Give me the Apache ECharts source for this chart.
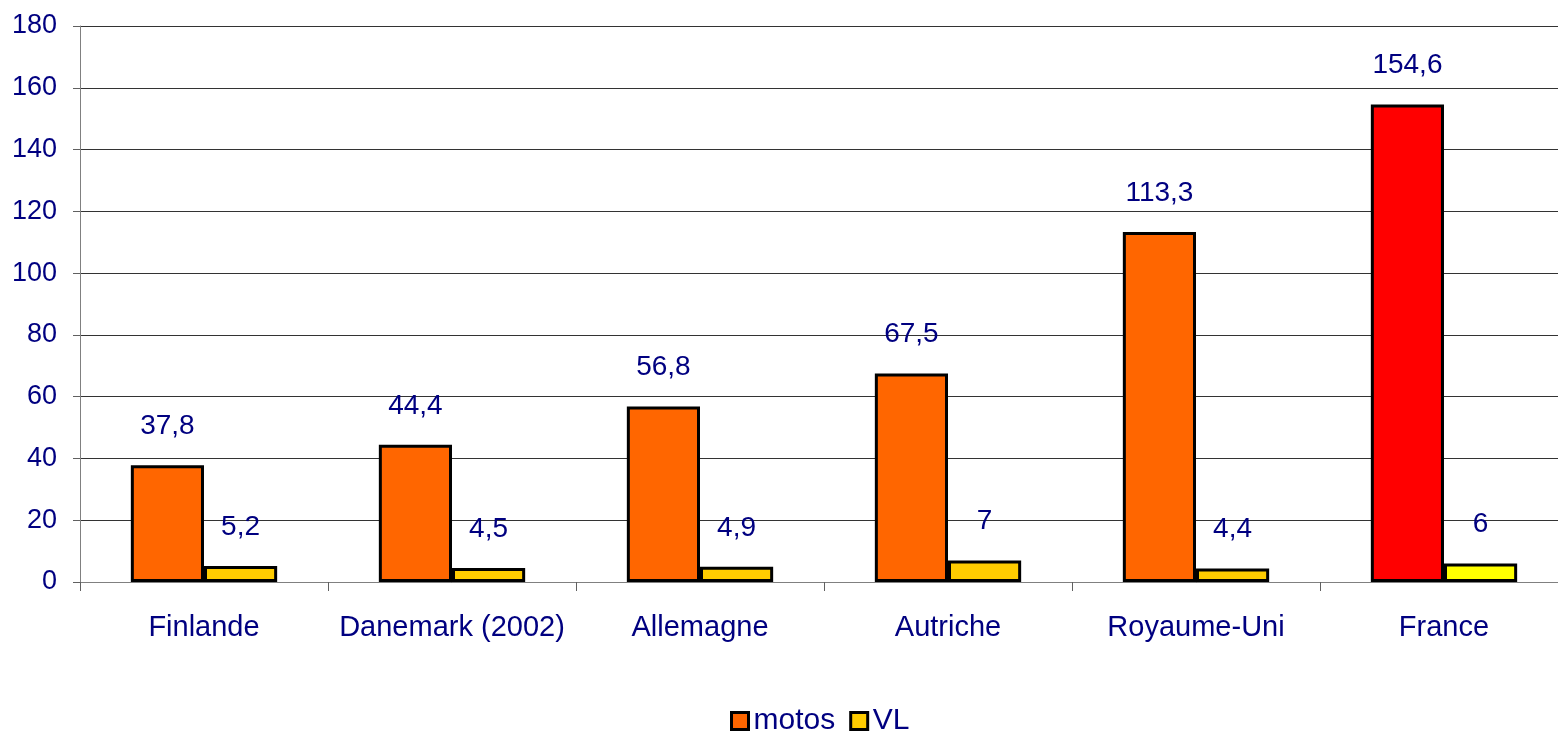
<!DOCTYPE html>
<html>
<head>
<meta charset="utf-8">
<script src="https://cdn.jsdelivr.net/npm/echarts@6/dist/echarts.min.js"></script>
<style>
  html, body { margin: 0; padding: 0; background: #fff; overflow: hidden; }
  /* slightly wider than the window: the plot area runs past the right edge, as in the original */
  #chart { width: 1568px; height: 732px; }
</style>
</head>
<body>
<div id="chart"></div>
<script>
// data
var categories = ['Finlande', 'Danemark (2002)', 'Allemagne', 'Autriche', 'Royaume-Uni', 'France'];
var motos = [37.8, 44.4, 56.8, 67.5, 113.3, 154.6];
var vl = [5.2, 4.5, 4.9, 7, 4.4, 6];
var yTicks = { min: 0, max: 180, interval: 20 };

var navy = '#000080';
var font = 'Liberation Sans, Arial, sans-serif';

var myChart = echarts.init(document.getElementById('chart'));

function fmt(v) {
    return String(v).replace('.', ',');
}

var lastIdx = categories.length - 1;

var option = {
    animation: false,
    textStyle: { fontFamily: font },
    legend: {
        bottom: -9,
        left: 725,
        itemWidth: 17,
        itemHeight: 17,
        itemGap: 14,
        icon: 'rect',
        textStyle: { color: navy, fontSize: 30, fontFamily: font },
        data: [
            { name: 'motos', itemStyle: { color: '#FF6600', borderColor: '#000', borderWidth: 3 } },
            { name: 'VL', itemStyle: { color: '#FFCC00', borderColor: '#000', borderWidth: 3 } }
        ]
    },
    grid: { left: 80, right: 0, top: 26, bottom: 150 },
    xAxis: {
        type: 'category',
        data: categories,
        axisLine: { lineStyle: { color: '#808080', width: 1 } },
        axisTick: { show: true, interval: 0, length: 9, lineStyle: { color: '#606060' } },
        axisLabel: { interval: 0, color: navy, fontSize: 29, margin: 31, fontFamily: font }
    },
    yAxis: {
        type: 'value',
        min: yTicks.min,
        max: yTicks.max,
        interval: yTicks.interval,
        axisLine: { show: true, lineStyle: { color: '#808080', width: 1 } },
        axisTick: { show: true, length: 7, lineStyle: { color: '#606060' } },
        splitLine: { lineStyle: { color: '#333', width: 1 } },
        axisLabel: { color: navy, fontSize: 27, margin: 23, fontFamily: font }
    },
    series: [
        {
            name: 'motos',
            type: 'bar',
            barWidth: '29.5%',
            barGap: '0%',
            data: motos.map(function (v, i) {
                return i === lastIdx ? { value: v, itemStyle: { color: '#FF0000' } } : v;
            }),
            itemStyle: { color: '#FF6600', borderColor: '#000', borderWidth: 3 },
            label: {
                show: true,
                position: 'top',
                distance: 25,
                color: navy,
                fontSize: 28,
                fontFamily: font,
                formatter: function (p) { return fmt(p.value); }
            }
        },
        {
            name: 'VL',
            type: 'bar',
            barWidth: '29.5%',
            data: vl.map(function (v, i) {
                return i === lastIdx ? { value: v, itemStyle: { color: '#FFFF00' } } : v;
            }),
            itemStyle: { color: '#FFCC00', borderColor: '#000', borderWidth: 3 },
            label: {
                show: true,
                position: 'top',
                distance: 25,
                color: navy,
                fontSize: 28,
                fontFamily: font,
                formatter: function (p) { return fmt(p.value); }
            }
        }
    ]
};

myChart.setOption(option);
</script>
</body>
</html>
